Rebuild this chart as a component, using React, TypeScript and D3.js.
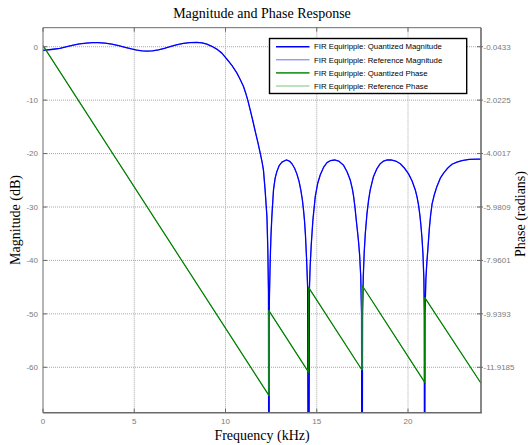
import React from 'react';
import * as d3 from 'd3';

// frequency (kHz), magnitude (dB)
const quantizedMagnitude: [number, number][] = [
  [0, -0.69], [0.45, -0.52], [0.93, -0.31], [1.3, 0.0], [1.66, 0.31], [2.0, 0.53],
  [2.39, 0.69], [2.7, 0.76], [3.03, 0.76], [3.4, 0.66], [3.77, 0.48], [4.15, 0.2],
  [4.5, -0.13], [4.85, -0.42], [5.14, -0.62], [5.42, -0.76], [5.69, -0.81], [6.0, -0.76],
  [6.32, -0.6], [6.65, -0.32], [6.96, 0.0], [7.3, 0.33], [7.69, 0.62], [8.05, 0.78],
  [8.43, 0.81], [8.72, 0.72], [8.98, 0.48], [9.25, 0.08], [9.52, -0.44], [9.8, -1.2],
  [10.07, -2.3], [10.35, -3.5], [10.62, -4.9], [10.8, -6.1], [10.98, -7.4], [11.1, -8.6],
  [11.22, -10.0], [11.36, -11.9], [11.5, -13.9], [11.64, -16.0], [11.78, -18.0], [11.92, -20.2],
  [12.0, -21.5], [12.08, -23.1], [12.17, -26.8], [12.27, -31.8], [12.32, -38.0], [12.355, -46.0],
  [12.377, -110], [12.4, -48.0], [12.45, -40.0], [12.49, -35.5], [12.54, -31.8], [12.63, -26.8],
  [12.72, -24.6], [12.82, -23.3], [12.95, -22.2], [13.09, -21.6], [13.33, -21.2], [13.5, -21.4],
  [13.64, -21.9], [13.78, -22.7], [13.91, -23.8], [14.03, -25.2], [14.13, -26.9], [14.21, -28.6],
  [14.27, -30.4], [14.33, -32.6], [14.38, -35.2], [14.44, -39.5], [14.5, -45.0], [14.55, -110],
  [14.6, -45.0], [14.64, -41.0], [14.7, -37.0], [14.79, -32.4], [14.92, -28.0], [15.05, -25.6],
  [15.19, -24.0], [15.37, -22.6], [15.56, -21.7], [15.76, -21.3], [15.98, -21.2], [16.2, -21.4],
  [16.47, -22.2], [16.66, -23.4], [16.84, -25.0], [16.95, -26.6], [17.02, -28.0], [17.1, -30.2],
  [17.16, -32.3], [17.23, -34.5], [17.29, -36.5], [17.35, -39.0], [17.41, -43.0], [17.455, -50.0],
  [17.48, -110], [17.51, -50.0], [17.55, -43.0], [17.6, -38.5], [17.66, -35.0], [17.75, -31.3],
  [17.84, -28.7], [17.93, -26.8], [18.1, -24.4], [18.3, -22.8], [18.48, -21.9], [18.66, -21.4],
  [18.86, -21.2], [19.07, -21.2], [19.33, -21.4], [19.58, -21.9], [19.8, -22.7], [20.03, -23.8],
  [20.22, -25.1], [20.4, -26.8], [20.5, -28.2], [20.58, -29.7], [20.65, -31.5], [20.71, -33.5],
  [20.77, -36.0], [20.82, -38.8], [20.87, -43.5], [20.895, -50.0], [20.91, -110], [20.93, -50.0],
  [20.98, -43.5], [21.03, -40.5], [21.08, -38.3], [21.17, -34.0], [21.24, -31.5], [21.32, -29.4],
  [21.45, -27.6], [21.59, -26.1], [21.77, -24.6], [21.96, -23.6], [22.18, -22.7], [22.41, -22.0],
  [22.68, -21.6], [22.96, -21.3], [23.35, -21.1], [23.78, -21.05], [24, -21.05],
];
// reference filter overlaps the quantized one in the picture
const referenceMagnitude = quantizedMagnitude;

// frequency (kHz), phase (radians) incl. the +pi jumps at the stopband zeros
const quantizedPhase: [number, number][] = [
  [0, 0], [12.377, -12.96], [12.377, -9.82], [14.55, -12.1], [14.55, -8.96],
  [17.48, -12.02], [17.48, -8.88], [20.91, -12.47], [20.91, -9.33], [24, -12.51],
];
const referencePhase = quantizedPhase;

const freqTicks = [0, 5, 10, 15, 20];
const magTicks = [0, -10, -20, -30, -40, -50, -60];
const phaseTicks = [-0.0433, -2.0225, -4.0017, -5.9809, -7.9601, -9.9393, -11.9185];

const legendItems = [
  { label: 'FIR Equiripple: Quantized Magnitude', color: '#0000ff', width: 1.4 },
  { label: 'FIR Equiripple: Reference Magnitude', color: '#6b6bff', width: 1 },
  { label: 'FIR Equiripple: Quantized Phase', color: '#2e9a2e', width: 1.8 },
  { label: 'FIR Equiripple: Reference Phase', color: '#7cc47c', width: 1 },
];

const W = 528;
const H = 445;
const plot = { left: 43, right: 481, top: 27.7, bottom: 412.7 };

const serif = '"Liberation Serif", "Times New Roman", serif';
const sans = '"Liberation Sans", Arial, sans-serif';

export default function App() {
  const x = d3.scaleLinear().domain([0, 24]).range([plot.left, plot.right]);
  const yL = d3.scaleLinear().domain([-68.5, 3.56]).range([plot.bottom, plot.top]);
  // right axis shares the left gridlines: -0.0433 rad at 0 dB, -11.9185 rad at -60 dB
  const yR = d3.scaleLinear()
    .domain([phaseTicks[phaseTicks.length - 1], phaseTicks[0]])
    .range([yL(-60), yL(0)]);

  const magLine = d3.line<[number, number]>().x(d => x(d[0])).y(d => yL(d[1]));
  const phaseLine = d3.line<[number, number]>().x(d => x(d[0])).y(d => yR(d[1]));

  const tickColor = '#7a7a7a';
  const gridColor = '#a8a8a8';
  const axisColor = '#6a6a6a';

  const lg = { x0: 269.5, y0: 38.5, x1: 466.7, y1: 93.5 };

  return (
    <div style={{ position: 'absolute', left: 0, top: 0 }}>
      <svg width={W} height={H} style={{ display: 'block', background: '#fff' }}>
        <defs>
          <clipPath id="plotClip">
            <rect x={plot.left} y={plot.top} width={plot.right - plot.left} height={plot.bottom - plot.top} />
          </clipPath>
        </defs>
        <rect width={W} height={H} fill="#fff" />

        {/* grid */}
        <g stroke={gridColor} strokeWidth={1} strokeDasharray="1,1">
          {freqTicks.filter(t => t > 0).map(t => (
            <line key={'gx' + t} x1={x(t)} x2={x(t)} y1={plot.top} y2={plot.bottom} />
          ))}
          {magTicks.map(t => (
            <line key={'gy' + t} x1={plot.left} x2={plot.right} y1={yL(t)} y2={yL(t)} />
          ))}
        </g>

        {/* curves */}
        <g clipPath="url(#plotClip)" fill="none" strokeLinejoin="round">
          <path d={magLine(referenceMagnitude) || ''} stroke="#6b6bff" strokeWidth={1} />
          <path d={magLine(quantizedMagnitude) || ''} stroke="#0000ff" strokeWidth={1.3} />
          <path d={phaseLine(referencePhase) || ''} stroke="#7cc47c" strokeWidth={1} />
          <path d={phaseLine(quantizedPhase) || ''} stroke="#008000" strokeWidth={1.2} />
        </g>

        {/* box */}
        <g stroke={axisColor} fill="none">
          <line x1={plot.left} x2={plot.right} y1={plot.top} y2={plot.top} strokeWidth={1} />
          <line x1={plot.left} x2={plot.left} y1={plot.top} y2={plot.bottom} strokeWidth={1} />
          <line x1={plot.left} x2={plot.right + 1} y1={plot.bottom} y2={plot.bottom} strokeWidth={1.6} />
          <line x1={plot.right} x2={plot.right} y1={plot.top} y2={plot.bottom} strokeWidth={1.6} />
        </g>

        {/* ticks */}
        <g stroke={axisColor} strokeWidth={1}>
          {freqTicks.map(t => (
            <g key={'tx' + t}>
              <line x1={x(t)} x2={x(t)} y1={plot.bottom} y2={plot.bottom - 4} />
              <line x1={x(t)} x2={x(t)} y1={plot.top} y2={plot.top + 4} />
            </g>
          ))}
          {magTicks.map(t => (
            <line key={'tl' + t} x1={plot.left} x2={plot.left + 4} y1={yL(t)} y2={yL(t)} />
          ))}
          {phaseTicks.map(t => (
            <line key={'tr' + t} x1={plot.right - 4} x2={plot.right + 2} y1={yR(t)} y2={yR(t)} />
          ))}
        </g>

        <g fontFamily={sans} fontSize={8} fill={tickColor}>
          {freqTicks.map(t => (
            <text key={'lx' + t} x={x(t)} y={424} textAnchor="middle">{t}</text>
          ))}
          {magTicks.map(t => (
            <text key={'ll' + t} x={38} y={yL(t)} dy="0.35em" textAnchor="end">{t}</text>
          ))}
          {phaseTicks.map(t => (
            <text key={'lr' + t} x={483.5} y={yR(t)} dy="0.35em" textAnchor="start">{t.toFixed(4)}</text>
          ))}
        </g>

        {/* legend */}
        <rect x={lg.x0} y={lg.y0} width={lg.x1 - lg.x0} height={lg.y1 - lg.y0} fill="#fff" stroke="#000" strokeWidth={1.4} />
        {legendItems.map((it, i) => {
          const cy = 46.7 + i * 13.1;
          return (
            <g key={it.label}>
              <line x1={276} x2={309.5} y1={cy} y2={cy} stroke={it.color} strokeWidth={it.width} />
              <text x={314} y={cy} dy="0.35em" fontFamily={sans} fontSize={7.8} fill="#000">{it.label}</text>
            </g>
          );
        })}

        {/* titles */}
        <text x={(plot.left + plot.right) / 2} y={18.3} textAnchor="middle" fontFamily={serif} fontSize={14} fill="#000">
          Magnitude and Phase Response
        </text>
        <text x={(plot.left + plot.right) / 2} y={440} textAnchor="middle" fontFamily={serif} fontSize={14} fill="#000">
          Frequency (kHz)
        </text>
        <text transform="translate(20,220) rotate(-90)" textAnchor="middle" fontFamily={serif} fontSize={14} fill="#000">
          Magnitude (dB)
        </text>
        <text transform="translate(525,214) rotate(-90)" textAnchor="middle" fontFamily={serif} fontSize={14} fill="#000">
          Phase (radians)
        </text>
      </svg>
    </div>
  );
}
